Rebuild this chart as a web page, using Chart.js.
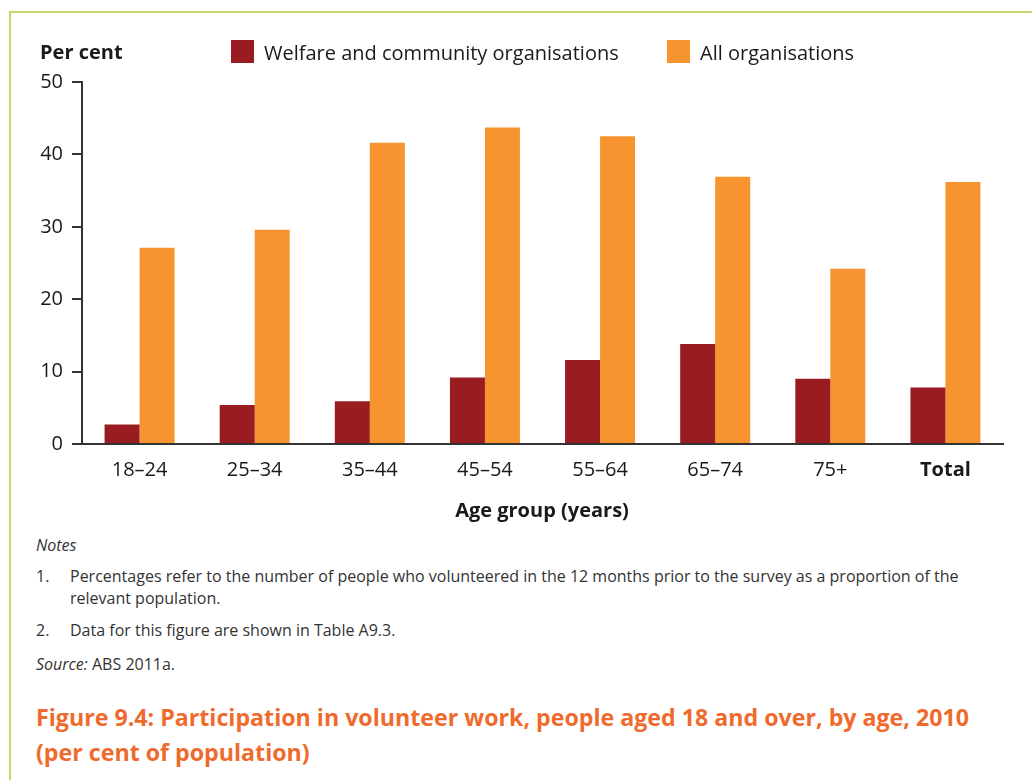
<!DOCTYPE html>
<html>
<head>
<meta charset="utf-8">
<script src="https://cdn.jsdelivr.net/npm/chart.js@4.4.1/dist/chart.umd.min.js"></script>
<style>
  html, body { margin:0; padding:0; background:#fff; width:1032px; height:780px; overflow:hidden; }
  body { position:relative; font-family:"Open Sans", sans-serif; color:#1a1a1a; }
  .frame-top { position:absolute; left:9px; top:11px; width:1023px; height:2px; background:#c2d86e; }
  .frame-left { position:absolute; left:9px; top:11px; width:2px; height:769px; background:#c2d86e; }
  .t { position:absolute; white-space:nowrap; line-height:1; }
  .n { font-size:16px; color:#333; }
  #chartWrap { position:absolute; left:0; top:0; width:1032px; height:500px; }
  .lgbox { position:absolute; width:23px; height:23px; }
</style>
</head>
<body>
<div class="frame-top"></div>
<div class="frame-left"></div>

<div id="chartWrap"><canvas id="c"></canvas></div>

<div class="t" style="left:40px; top:42px; font-size:20px; font-weight:700;">Per cent</div>

<div class="lgbox" style="left:231px; top:40px; background:#981c20;"></div>
<div class="t" id="lg1" style="left:264px; top:43px; font-size:20px;">Welfare and community organisations</div>
<div class="lgbox" style="left:667px; top:40px; background:#f7942f;"></div>
<div class="t" id="lg2" style="left:700px; top:43px; font-size:20px;">All organisations</div>

<div class="t" style="left:542px; top:500px; font-size:20px; font-weight:700; transform:translateX(-50%);">Age group (years)</div>

<div class="t n" style="left:36px; top:537px; font-style:italic;">Notes</div>
<div class="t n" style="left:36px; top:568px;">1.</div>
<div class="t n" style="left:70px; top:568px;">Percentages refer to the number of people who volunteered in the 12 months prior to the survey as a proportion of the</div>
<div class="t n" style="left:70px; top:590px;">relevant population.</div>
<div class="t n" style="left:36px; top:622px;">2.</div>
<div class="t n" style="left:70px; top:622px;">Data for this figure are shown in Table A9.3.</div>
<div class="t n" style="left:36px; top:656px;"><i>Source:</i> ABS 2011a.</div>

<div class="t" style="left:36px; top:706px; font-size:23.2px; font-weight:700; color:#ef6b2d;">Figure 9.4: Participation in volunteer work, people aged 18 and over, by age, 2010</div>
<div class="t" style="left:36px; top:741px; font-size:23.2px; font-weight:700; color:#ef6b2d;">(per cent of population)</div>

<script>
const categories = ["18–24", "25–34", "35–44", "45–54", "55–64", "65–74", "75+", "Total"];
const welfare = [2.7, 5.4, 5.9, 9.2, 11.6, 13.8, 9.0, 7.8];
const allOrgs = [27.1, 29.6, 41.6, 43.7, 42.5, 36.9, 24.2, 36.2];
const yTicks = [0, 10, 20, 30, 40, 50];
const seriesNames = ["Welfare and community organisations", "All organisations"];

const FONT = "'Open Sans', sans-serif";

new Chart(document.getElementById('c'), {
  type: 'bar',
  data: {
    labels: categories,
    datasets: [
      { label: seriesNames[0], data: welfare, backgroundColor: '#981c20', borderWidth: 0 },
      { label: seriesNames[1], data: allOrgs, backgroundColor: '#f7942f', borderWidth: 0 }
    ]
  },
  options: {
    responsive: true,
    maintainAspectRatio: false,
    animation: false,
    layout: { padding: { left: 32, top: 82, right: 29, bottom: 0 } },
    plugins: { legend: { display: false }, tooltip: { enabled: false } },
    datasets: { bar: { categoryPercentage: 0.608, barPercentage: 1.0 } },
    scales: {
      x: {
        grid: { display: false },
        border: { display: true, color: '#333', width: 2 },
        ticks: {
          color: '#1a1a1a',
          padding: 6,
          font: (ctx) => ({ family: FONT, size: 20, weight: (ctx.index === categories.length - 1) ? '700' : '400' })
        },
        afterFit: (s) => { s.height = 56; }
      },
      y: {
        min: 0, max: 50,
        afterBuildTicks: (s) => { s.ticks = yTicks.map(v => ({ value: v })); },
        grid: { drawOnChartArea: false, drawTicks: true, tickLength: 10, color: '#333', lineWidth: 2 },
        border: { display: true, color: '#333', width: 2 },
        ticks: { color: '#1a1a1a', padding: 9, font: { family: FONT, size: 20 } },
        afterFit: (s) => { s.width = 50; }
      }
    }
  }
});
</script>
</body>
</html>
